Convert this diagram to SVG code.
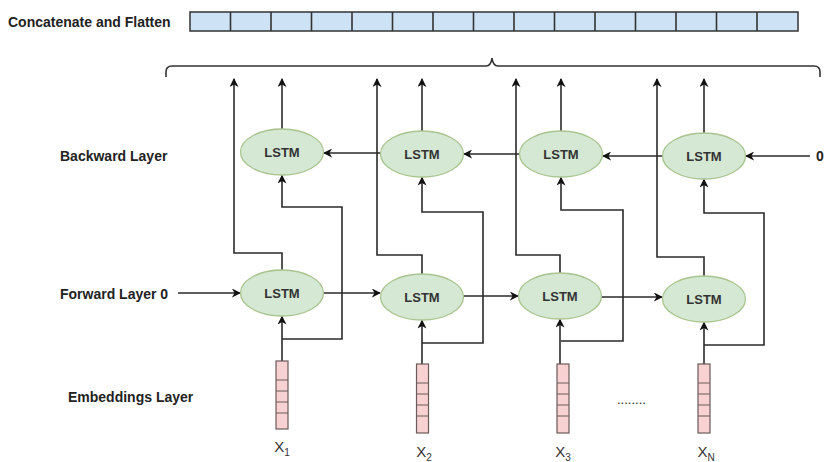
<svg xmlns="http://www.w3.org/2000/svg" width="825" height="462" viewBox="0 0 825 462">
<defs>
<marker id="ah" viewBox="0 0 10 10" refX="9" refY="5" markerWidth="9" markerHeight="9" markerUnits="userSpaceOnUse" orient="auto">
<path d="M0,0 L10,5 L0,10 L3,5 Z" fill="#111"/>
</marker>
<style>
.lbl{font-family:"Liberation Sans",Arial,sans-serif;font-weight:bold;font-size:14px;fill:#222}
.ls{font-family:"Liberation Sans",Arial,sans-serif;font-weight:bold;font-size:13px;fill:#333;text-anchor:middle}
.x{font-family:"Liberation Sans",Arial,sans-serif;font-size:15px;fill:#333;text-anchor:middle}
.ell{fill:#d5e8d4;stroke:#a9c48f;stroke-width:1.3}
.cell{fill:#cde3f5;stroke:#333;stroke-width:1.5}
.emb{fill:#f8d2d2;stroke:#6b5a5a;stroke-width:1.2}
.c{fill:none;stroke:#333;stroke-width:1.6}
.a{fill:none;stroke:#2a2a2a;stroke-width:1.6;marker-end:url(#ah)}
</style>
</defs>
<rect width="825" height="462" fill="#ffffff"/>

<g id="concat">
<text class="lbl" x="8" y="27">Concatenate and Flatten</text>
<rect class="cell" x="190" y="12" width="608" height="19"/>
<path class="c" d="M230.5,12V31M271,12V31M311.5,12V31M352,12V31M392.5,12V31M433,12V31M473.5,12V31M514,12V31M554.5,12V31M595,12V31M635.5,12V31M676,12V31M716.5,12V31M757,12V31"/>
</g>

<g id="brace">
<path class="c" d="M166,77 V72 Q166,66 172,66 H486 Q491,66 492,58 Q493,66 498,66 H814 Q820,66 820,72 V77"/>
</g>

<g id="labels">
<text class="lbl" x="60" y="161">Backward Layer</text>
<text class="lbl" x="60" y="299">Forward Layer  0</text>
<text class="lbl" x="68" y="402">Embeddings Layer</text>
<text class="lbl" x="816" y="161">0</text>
<text class="lbl" x="617" y="404" style="font-weight:normal;font-size:13px">........</text>
</g>

<g id="connectors">
<path class="a" d="M282,270V253H234V79"/>
<path class="a" d="M282,129V79"/>
<path class="a" d="M422,274V255H377V79"/>
<path class="a" d="M422,131V79"/>
<path class="a" d="M560,273V255H516V79"/>
<path class="a" d="M561,131V79"/>
<path class="a" d="M704,276V257H657V79"/>
<path class="a" d="M704,133V79"/>
<path class="a" d="M282,361V316.5"/>
<path class="a" d="M422,364V320.5"/>
<path class="a" d="M560,364V319.5"/>
<path class="a" d="M704,364V322.5"/>
<path class="a" d="M282,339H342V207H282V175.5"/>
<path class="a" d="M422,343H483V212H422V177.5"/>
<path class="a" d="M561,341H623V210H561V177.5"/>
<path class="a" d="M704,345H764V213H704V179.5"/>
<path class="a" d="M178,293H240"/>
<path class="a" d="M323.5,293H380"/>
<path class="a" d="M463.5,296H518"/>
<path class="a" d="M601.5,297H662"/>
<path class="a" d="M810,156H746"/>
<path class="a" d="M662.5,156H603"/>
<path class="a" d="M519.5,154H464"/>
<path class="a" d="M380.5,153H324"/>
</g>

<g id="b1"><ellipse class="ell" cx="282" cy="152" rx="41.5" ry="23"/><text class="ls" x="282" y="156.5">LSTM</text></g>
<g id="b2"><ellipse class="ell" cx="422" cy="154" rx="41.5" ry="23"/><text class="ls" x="422" y="158.5">LSTM</text></g>
<g id="b3"><ellipse class="ell" cx="561" cy="154" rx="41.5" ry="23"/><text class="ls" x="561" y="158.5">LSTM</text></g>
<g id="b4"><ellipse class="ell" cx="704" cy="156" rx="41.5" ry="23"/><text class="ls" x="704" y="160.5">LSTM</text></g>

<g id="f1"><ellipse class="ell" cx="282" cy="293" rx="41.5" ry="23"/><text class="ls" x="282" y="297.5">LSTM</text></g>
<g id="f2"><ellipse class="ell" cx="422" cy="297" rx="41.5" ry="23"/><text class="ls" x="422" y="301.5">LSTM</text></g>
<g id="f3"><ellipse class="ell" cx="560" cy="296" rx="41.5" ry="23"/><text class="ls" x="560" y="300.5">LSTM</text></g>
<g id="f4"><ellipse class="ell" cx="704" cy="299" rx="41.5" ry="23"/><text class="ls" x="704" y="303.5">LSTM</text></g>

<g id="e1">
<rect class="emb" x="276" y="361" width="12" height="68"/>
<path class="emb" d="M276,380H288M276,391H288M276,402H288M276,413H288"/>
<text class="x" x="282" y="452">X<tspan font-size="10" dy="4">1</tspan></text>
</g>
<g id="e2">
<rect class="emb" x="416.5" y="364" width="12" height="69"/>
<path class="emb" d="M416.5,383H428.5M416.5,394H428.5M416.5,405H428.5M416.5,416H428.5"/>
<text class="x" x="424" y="457">X<tspan font-size="10" dy="4">2</tspan></text>
</g>
<g id="e3">
<rect class="emb" x="557" y="364" width="12" height="69"/>
<path class="emb" d="M557,383H569M557,394H569M557,405H569M557,416H569"/>
<text class="x" x="563" y="457">X<tspan font-size="10" dy="4">3</tspan></text>
</g>
<g id="e4">
<rect class="emb" x="698" y="364" width="12" height="69"/>
<path class="emb" d="M698,383H710M698,394H710M698,405H710M698,416H710"/>
<text class="x" x="706" y="457">X<tspan font-size="10" dy="4">N</tspan></text>
</g>
</svg>
